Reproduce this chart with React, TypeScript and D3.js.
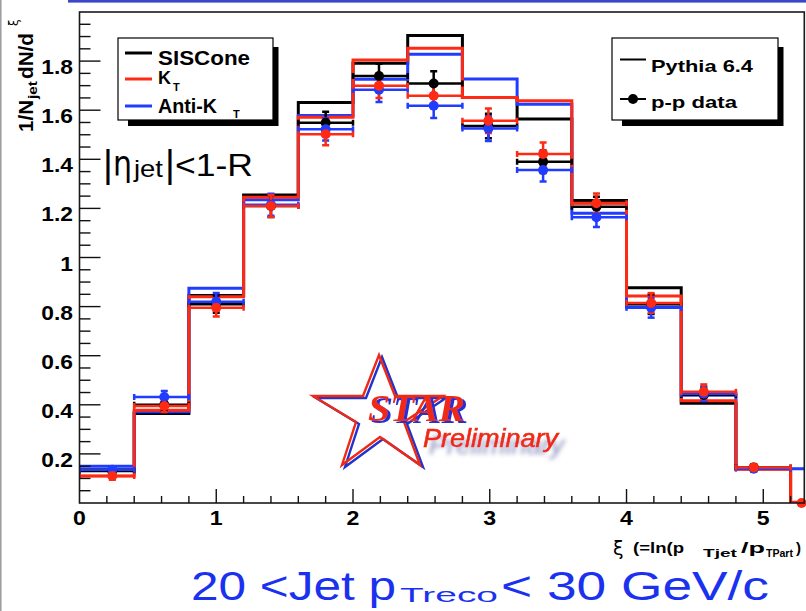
import React, { useEffect, useRef } from 'react';
import * as d3 from 'd3';

// xi bins, 0.4 wide (the last one runs past the frame edge)
const binEdges = [0, 0.4, 0.8, 1.2, 1.6, 2.0, 2.4, 2.8, 3.2, 3.6, 4.0, 4.4, 4.8, 5.2, 5.6];

// Pythia 6.4 histograms
const pythiaSISCone = [0.135, 0.365, 0.845, 1.255, 1.631, 1.791, 1.904, 1.652, 1.564, 1.232, 0.877, 0.406, 0.14, 0];
const pythiaKt = [0.11, 0.378, 0.84, 1.245, 1.571, 1.804, 1.852, 1.652, 1.639, 1.221, 0.843, 0.417, 0.137, 0.003];
const pythiaAntiKt = [0.15, 0.372, 0.875, 1.235, 1.578, 1.726, 1.828, 1.727, 1.624, 1.18, 0.797, 0.44, 0.14, 0.14];

// p-p data, markers sit at the bin mean
const dataXi = [0.24, 0.62, 1.0, 1.4, 1.8, 2.19, 2.59, 2.99, 3.39, 3.78, 4.18, 4.565, 4.93, 5.28];
const dataSISCone = [0.13, 0.4, 0.81, 1.21, 1.549, 1.739, 1.709, 1.536, 1.39, 1.207, 0.81, 0.44, 0.145, null];
const dataKt = [0.11, 0.395, 0.795, 1.21, 1.502, 1.7, 1.659, 1.557, 1.422, 1.221, 0.815, 0.453, 0.145, 0.0];
const dataAntiKt = [0.135, 0.432, 0.82, 1.215, 1.522, 1.683, 1.618, 1.525, 1.356, 1.164, 0.795, 0.445, 0.14, null];
const dataErr = [0.015, 0.024, 0.035, 0.045, 0.045, 0.05, 0.05, 0.05, 0.046, 0.04, 0.04, 0.03, 0.012, 0];

const xTickValues = [0, 1, 2, 3, 4, 5];
const xTickLabels = ['0', '1', '2', '3', '4', '5'];
const yTickValues = [0.2, 0.4, 0.6, 0.8, 1.0, 1.2, 1.4, 1.6, 1.8];
const yTickLabels = ['0.2', '0.4', '0.6', '0.8', '1', '1.2', '1.4', '1.6', '1.8'];

const RED = '#ff2a14';
const BLUE = '#1f3cff';
const TEXT_BLUE = '#1a32f0';
const SANS = "'Liberation Sans', Arial, Helvetica, sans-serif";

const series = [
  { name: 'SISCone', color: '#000000', pythia: pythiaSISCone, data: dataSISCone },
  { name: 'Anti-KT', color: BLUE, pythia: pythiaAntiKt, data: dataAntiKt },
  { name: 'KT', color: RED, pythia: pythiaKt, data: dataKt },
];

function addText(g: any, o: any) {
  const t = g.append('text')
    .attr('x', o.x)
    .attr('y', o.y)
    .attr('font-family', o.family ?? SANS)
    .attr('font-size', o.size)
    .attr('font-weight', o.weight ?? 'bold')
    .attr('font-style', o.style ?? 'normal')
    .attr('fill', o.fill ?? '#000')
    .attr('text-anchor', o.anchor ?? 'start')
    .text(o.text);
  let len = o.width;
  if (!len && o.stretch) len = t.node().getComputedTextLength() * o.stretch;
  if (len) t.attr('textLength', len).attr('lengthAdjust', 'spacingAndGlyphs');
  return t;
}

export default function App() {
  const svgRef = useRef<SVGSVGElement | null>(null);

  useEffect(() => {
    if (!svgRef.current) return;
    const svg = d3.select(svgRef.current);
    svg.selectAll('*').remove();

    const frame = { left: 79.5, top: 12, right: 804.3, bottom: 503 };
    const x = d3.scaleLinear().domain([0, 5.3]).range([frame.left, frame.right]);
    const y = d3.scaleLinear().domain([0, 2]).range([frame.bottom, frame.top]);

    svg.append('rect').attr('width', 806).attr('height', 611).attr('fill', '#fff');

    // slide decorations
    svg.append('line').attr('x1', 0.8).attr('x2', 0.8).attr('y1', 0).attr('y2', 611)
      .attr('stroke', '#9a9a9a').attr('stroke-width', 1.5);
    svg.append('rect').attr('x', 68).attr('y', 0).attr('width', 738).attr('height', 2.6).attr('fill', '#3c46c8');

    const defs = svg.append('defs');
    defs.append('clipPath').attr('id', 'frame-clip')
      .append('rect')
      .attr('x', frame.left).attr('y', frame.top)
      .attr('width', frame.right - frame.left).attr('height', frame.bottom - frame.top);
    // blue offset copy behind the STAR lettering
    defs.append('filter').attr('id', 'star-shadow').attr('x', '-10%').attr('y', '-20%').attr('width', '130%').attr('height', '150%')
      .html('<feFlood flood-color="#2233cc" result="c"/><feComposite in="c" in2="SourceAlpha" operator="in" result="s"/><feOffset in="s" dx="3" dy="2" result="o"/><feMerge><feMergeNode in="o"/><feMergeNode in="SourceGraphic"/></feMerge>');
    // soft blurred shadow behind "Preliminary"
    defs.append('filter').attr('id', 'prelim-shadow').attr('x', '-10%').attr('y', '-30%').attr('width', '130%').attr('height', '180%')
      .html('<feFlood flood-color="#7f86b4" flood-opacity="0.75" result="c"/><feComposite in="c" in2="SourceAlpha" operator="in" result="s"/><feGaussianBlur in="s" stdDeviation="2.2" result="b"/><feOffset in="b" dx="6" dy="7" result="o"/><feMerge><feMergeNode in="o"/><feMergeNode in="SourceGraphic"/></feMerge>');

    // STAR Preliminary logo
    const logo = svg.append('g');
    const star = [[379, 355], [395, 396], [443, 396], [404, 422], [420, 465], [380, 437], [342, 465], [356, 422], [313, 396], [363, 396]];
    logo.append('polygon')
      .attr('points', star.map((p) => `${p[0] + 3},${p[1] + 2}`).join(' '))
      .attr('fill', 'none').attr('stroke', '#2233cc').attr('stroke-width', 2.4);
    logo.append('polygon')
      .attr('points', star.map((p) => `${p[0]},${p[1]}`).join(' '))
      .attr('fill', 'none').attr('stroke', '#ee2a14').attr('stroke-width', 2.4);
    addText(logo, { x: 368, y: 421, text: 'STAR', size: 37, family: "'Liberation Serif', 'Times New Roman', serif", style: 'italic', fill: '#ee2a14', width: 97 })
      .attr('filter', 'url(#star-shadow)');
    addText(logo, { x: 423, y: 447, text: 'Preliminary', size: 26, weight: 'normal', style: 'italic', fill: '#ee2a14', width: 135 })
      .attr('stroke', '#ee2a14').attr('stroke-width', 0.6)
      .attr('filter', 'url(#prelim-shadow)');

    const plot = svg.append('g').attr('clip-path', 'url(#frame-clip)');

    // Pythia histograms as step lines
    const step = d3.line<any>().x((d) => x(d[0])).y((d) => y(d[1])).curve(d3.curveStepAfter);
    series.forEach((s) => {
      const pts = s.pythia.map((v, i) => [binEdges[i], v]);
      pts.push([binEdges[s.pythia.length], s.pythia[s.pythia.length - 1]]);
      plot.append('path').datum(pts).attr('d', step)
        .attr('fill', 'none').attr('stroke', s.color).attr('stroke-width', 3);
    });

    // data error bars
    series.forEach((s) => {
      const eg = plot.append('g').attr('stroke', s.color).attr('stroke-width', 2.5).attr('fill', 'none');
      s.data.forEach((v, i) => {
        if (v == null) return;
        const yy = y(v);
        const x0 = x(binEdges[i]);
        const x1 = x(binEdges[i + 1]);
        const xc = x(dataXi[i]);
        eg.append('line').attr('x1', x0).attr('x2', x1).attr('y1', yy).attr('y2', yy);
        [x0, x1].forEach((xe) => eg.append('line').attr('x1', xe).attr('x2', xe).attr('y1', yy - 3).attr('y2', yy + 3));
        if (dataErr[i] > 0) {
          const yt = y(v + dataErr[i]);
          const yb = y(v - dataErr[i]);
          eg.append('line').attr('x1', xc).attr('x2', xc).attr('y1', yt).attr('y2', yb);
          [yt, yb].forEach((ye) => eg.append('line').attr('x1', xc - 3.5).attr('x2', xc + 3.5).attr('y1', ye).attr('y2', ye));
        }
      });
    });

    // data markers
    series.forEach((s) => {
      const pts = s.data.map((v, i) => ({ v, i })).filter((d) => d.v != null);
      svg.append('g').selectAll('circle').data(pts).join('circle')
        .attr('cx', (d) => x(dataXi[d.i]))
        .attr('cy', (d) => y(d.v as number))
        .attr('r', 5)
        .attr('fill', s.color);
    });

    // frame + ticks
    svg.append('rect')
      .attr('x', frame.left).attr('y', frame.top)
      .attr('width', frame.right - frame.left).attr('height', frame.bottom - frame.top)
      .attr('fill', 'none').attr('stroke', '#1a1a1a').attr('stroke-width', 1.6);

    const axes = svg.append('g').attr('stroke', '#111').attr('stroke-width', 1.4);
    d3.range(0.05, 1.999, 0.05).forEach((v) => {
      const major = yTickValues.some((t) => Math.abs(t - v) < 1e-6);
      axes.append('line').attr('x1', frame.left).attr('x2', frame.left + (major ? 21 : 11))
        .attr('y1', y(v)).attr('y2', y(v));
    });
    d3.range(0.2, 5.3, 0.2).forEach((v) => {
      const major = xTickValues.some((t) => Math.abs(t - v) < 1e-6);
      axes.append('line').attr('x1', x(v)).attr('x2', x(v))
        .attr('y1', frame.bottom).attr('y2', frame.bottom - (major ? 14 : 7));
    });

    const labels = svg.append('g');
    yTickValues.forEach((v, i) => {
      addText(labels, { x: 73, y: y(v) + 13, text: yTickLabels[i], size: 20, anchor: 'end', stretch: 1.14 });
    });
    xTickValues.forEach((v, i) => {
      addText(labels, { x: x(v), y: 525, text: xTickLabels[i], size: 21, anchor: 'middle', stretch: 1.1 });
    });

    // y title (rotated)
    const yt = svg.append('g').attr('transform', 'translate(33,132) rotate(-90)');
    addText(yt, { x: 0, y: 0, text: '1/N', size: 20, width: 32 });
    addText(yt, { x: 33, y: 4, text: 'jet', size: 13, width: 18 });
    addText(yt, { x: 53, y: 0, text: 'dN/d', size: 20, width: 46 });
    addText(yt, { x: 106, y: -15, text: 'ξ', size: 12, weight: 'normal', family: "'DejaVu Sans', sans-serif" });

    // x title
    addText(labels, { x: 613, y: 555, text: 'ξ', size: 19, weight: 'normal', family: "'DejaVu Sans', sans-serif" });
    addText(labels, { x: 633, y: 553, text: '(=ln(p', size: 15, width: 51 });
    addText(labels, { x: 703, y: 557, text: 'Tjet', size: 11.5, width: 34 });
    addText(labels, { x: 741, y: 553, text: '/p', size: 15, width: 24 });
    addText(labels, { x: 766, y: 557, text: 'TPart', size: 11.5, width: 27 });
    addText(labels, { x: 796, y: 553, text: ')', size: 15 });

    // |eta_jet| < 1-R
    addText(labels, { x: 103, y: 177, text: '|', size: 38, weight: 'normal' });
    addText(labels, { x: 113, y: 176, text: 'η', size: 36, weight: 'normal', family: "'DejaVu Sans', sans-serif", width: 19 });
    addText(labels, { x: 134, y: 177, text: 'jet', size: 24, weight: 'normal', width: 29 });
    addText(labels, { x: 165, y: 177, text: '|', size: 38, weight: 'normal' });
    addText(labels, { x: 175, y: 176, text: '<1-R', size: 32, weight: 'normal', width: 78 });

    // legend: jet algorithms
    const leg1 = { x: 118, y: 38, w: 155, h: 82 };
    svg.append('rect').attr('x', leg1.x + 10).attr('y', leg1.y + 9).attr('width', leg1.w - 4.5).attr('height', leg1.h + 6 - 9).attr('fill', '#000');
    svg.append('rect').attr('x', leg1.x).attr('y', leg1.y).attr('width', leg1.w).attr('height', leg1.h)
      .attr('fill', '#fff').attr('stroke', '#000').attr('stroke-width', 1.2);
    [['#000', 53], [RED, 79], [BLUE, 106]].forEach(([c, yy]) => {
      svg.append('line').attr('x1', 125).attr('x2', 152).attr('y1', yy).attr('y2', yy)
        .attr('stroke', c as string).attr('stroke-width', 3);
    });
    addText(svg, { x: 158, y: 65, text: 'SISCone', size: 20, width: 92 });
    addText(svg, { x: 158, y: 84, text: 'K', size: 19, width: 13 });
    addText(svg, { x: 173, y: 91, text: 'T', size: 11 });
    addText(svg, { x: 158, y: 113, text: 'Anti-K', size: 20, width: 59 });
    addText(svg, { x: 233, y: 118, text: 'T', size: 11 });

    // legend: Pythia vs data
    const leg2 = { x: 612, y: 38, w: 166, h: 82 };
    svg.append('rect').attr('x', leg2.x + 10).attr('y', leg2.y + 9).attr('width', leg2.w - 4.5).attr('height', leg2.h + 6 - 9).attr('fill', '#000');
    svg.append('rect').attr('x', leg2.x).attr('y', leg2.y).attr('width', leg2.w).attr('height', leg2.h)
      .attr('fill', '#fff').attr('stroke', '#000').attr('stroke-width', 1.2);
    svg.append('line').attr('x1', 620).attr('x2', 646).attr('y1', 59.5).attr('y2', 59.5).attr('stroke', '#000').attr('stroke-width', 2);
    svg.append('line').attr('x1', 620).attr('x2', 646).attr('y1', 99).attr('y2', 99).attr('stroke', '#000').attr('stroke-width', 2);
    svg.append('circle').attr('cx', 633).attr('cy', 99).attr('r', 5).attr('fill', '#000');
    addText(svg, { x: 651, y: 72, text: 'Pythia 6.4', size: 17, width: 102 });
    addText(svg, { x: 651, y: 108, text: 'p-p data', size: 17, width: 86 });

    // bottom caption
    addText(svg, { x: 191, y: 600, text: '20 <Jet p', size: 40, weight: 'normal', fill: TEXT_BLUE, width: 205 });
    addText(svg, { x: 400, y: 602, text: 'Treco', size: 20, weight: 'normal', fill: TEXT_BLUE, width: 98 });
    addText(svg, { x: 501, y: 600, text: '< 30 GeV/c', size: 40, weight: 'normal', fill: TEXT_BLUE, width: 268 });
  }, []);

  return (
    <svg
      ref={svgRef}
      width={806}
      height={611}
      style={{ position: 'absolute', left: 0, top: 0, display: 'block' }}
    />
  );
}
